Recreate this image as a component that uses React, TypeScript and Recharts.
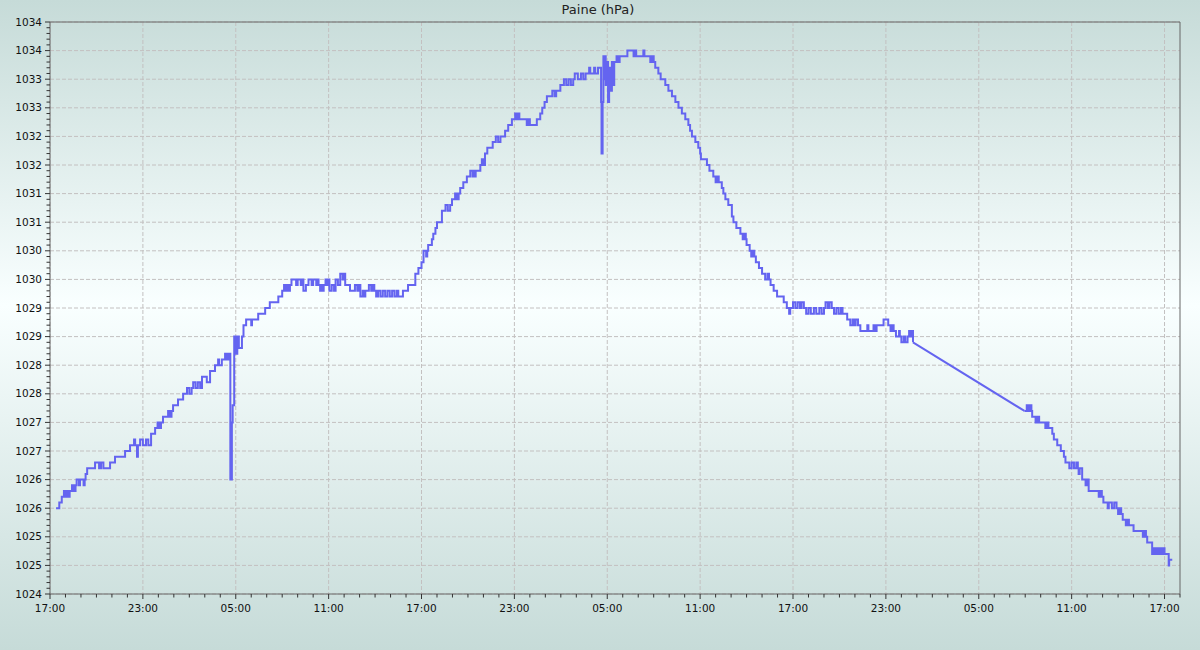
import { LineChart, Line, XAxis, YAxis, CartesianGrid, ReferenceLine } from "recharts";

const START_HOUR = 17;
const X_MAX = 73;
const Y_MIN = 1024;
const Y_MAX = 1034;

// labelled ticks (grid lines are drawn on these)
const xLabelHours = [0, 6, 12, 18, 24, 30, 36, 42, 48, 54, 60, 66, 72];
const yLabelValues = [
  1024, 1024.5, 1025, 1025.5, 1026, 1026.5, 1027, 1027.5, 1028, 1028.5, 1029,
  1029.5, 1030, 1030.5, 1031, 1031.5, 1032, 1032.5, 1033, 1033.5, 1034,
];

// small ticks: every hour / every 0.1 hPa
const xMinorTicks = Array.from({ length: X_MAX + 1 }, (_, i) => i);
const yMinorTicks = Array.from({ length: 101 }, (_, i) => (Y_MIN * 10 + i) / 10);

// [hours since 17:00, hPa] - logger readings before the gap
const readingsA: [number, number][] = [
  [0.39, 1025.5], [0.6, 1025.6], [0.76, 1025.7], [0.9, 1025.8], [1.0, 1025.7], [1.1, 1025.8],
  [1.2, 1025.7], [1.27, 1025.8], [1.42, 1025.9], [1.55, 1025.8], [1.65, 1025.9], [1.72, 1026.0],
  [1.87, 1025.9], [1.94, 1026.0], [2.17, 1025.9], [2.24, 1026.0], [2.3, 1026.1], [2.4, 1026.2],
  [2.91, 1026.3], [3.17, 1026.2], [3.3, 1026.3], [3.45, 1026.2], [3.88, 1026.3], [4.2, 1026.4],
  [4.85, 1026.5], [5.17, 1026.6], [5.43, 1026.7], [5.5, 1026.6], [5.62, 1026.4], [5.68, 1026.6],
  [5.82, 1026.7], [6.0, 1026.6], [6.2, 1026.7], [6.35, 1026.6], [6.53, 1026.8], [6.79, 1026.9],
  [6.95, 1027.0], [7.05, 1026.9], [7.17, 1027.0], [7.3, 1027.1], [7.63, 1027.2], [7.75, 1027.1],
  [7.85, 1027.2], [7.95, 1027.3], [8.27, 1027.4], [8.6, 1027.5], [8.85, 1027.6], [9.0, 1027.5],
  [9.15, 1027.6], [9.25, 1027.7], [9.4, 1027.6], [9.55, 1027.7], [9.7, 1027.6], [9.82, 1027.8],
  [10.13, 1027.7], [10.34, 1027.9], [10.66, 1028.0], [10.86, 1028.1], [10.92, 1028.0], [11.1, 1028.1],
  [11.31, 1028.2], [11.42, 1028.1], [11.52, 1028.2], [11.65, 1026.0], [11.75, 1027.0], [11.8, 1027.3],
  [11.9, 1028.5], [12.0, 1028.2], [12.1, 1028.5], [12.2, 1028.3], [12.4, 1028.5], [12.5, 1028.7],
  [12.67, 1028.8], [13.0, 1028.7], [13.05, 1028.8], [13.45, 1028.9], [13.9, 1029.0], [14.2, 1029.1],
  [14.75, 1029.2], [15.0, 1029.3], [15.12, 1029.4], [15.2, 1029.3], [15.3, 1029.4], [15.4, 1029.3],
  [15.5, 1029.4], [15.6, 1029.5], [15.9, 1029.4], [16.0, 1029.5], [16.2, 1029.4], [16.3, 1029.5],
  [16.37, 1029.3], [16.53, 1029.4], [16.7, 1029.5], [16.9, 1029.4], [17.0, 1029.5], [17.2, 1029.4],
  [17.3, 1029.5], [17.35, 1029.4], [17.45, 1029.3], [17.52, 1029.4], [17.62, 1029.3], [17.68, 1029.4],
  [17.8, 1029.5], [17.9, 1029.4], [18.0, 1029.5], [18.05, 1029.3], [18.2, 1029.4], [18.35, 1029.3],
  [18.45, 1029.5], [18.6, 1029.4], [18.75, 1029.6], [18.9, 1029.5], [19.0, 1029.6], [19.07, 1029.4],
  [19.38, 1029.3], [19.7, 1029.4], [19.85, 1029.3], [19.95, 1029.4], [20.05, 1029.2], [20.2, 1029.3],
  [20.3, 1029.2], [20.37, 1029.3], [20.6, 1029.4], [20.75, 1029.3], [20.85, 1029.4], [20.95, 1029.3],
  [21.07, 1029.2], [21.2, 1029.3], [21.35, 1029.2], [21.5, 1029.3], [21.65, 1029.2], [21.8, 1029.3],
  [21.95, 1029.2], [22.1, 1029.3], [22.25, 1029.2], [22.4, 1029.3], [22.5, 1029.2], [22.8, 1029.3],
  [23.13, 1029.4], [23.6, 1029.6], [23.8, 1029.7], [24.0, 1029.8], [24.13, 1030.0], [24.3, 1029.9],
  [24.37, 1030.0], [24.43, 1030.1], [24.67, 1030.2], [24.76, 1030.3], [24.9, 1030.4], [25.0, 1030.5],
  [25.32, 1030.7], [25.55, 1030.8], [25.7, 1030.7], [25.85, 1030.8], [25.97, 1030.9], [26.17, 1031.0],
  [26.3, 1030.9], [26.4, 1031.0], [26.5, 1031.1], [26.7, 1031.2], [26.93, 1031.3], [27.15, 1031.4],
  [27.3, 1031.3], [27.38, 1031.4], [27.45, 1031.3], [27.5, 1031.4], [27.8, 1031.5], [27.9, 1031.6],
  [28.0, 1031.5], [28.1, 1031.7], [28.25, 1031.8], [28.6, 1031.9], [28.8, 1032.0], [28.95, 1031.9],
  [29.1, 1032.0], [29.4, 1032.1], [29.6, 1032.2], [29.84, 1032.3], [30.05, 1032.4], [30.12, 1032.3],
  [30.25, 1032.4], [30.32, 1032.3], [30.8, 1032.2], [30.88, 1032.3], [31.0, 1032.2], [31.45, 1032.3],
  [31.67, 1032.4], [31.8, 1032.5], [31.95, 1032.6], [32.1, 1032.7], [32.45, 1032.8], [32.6, 1032.7],
  [32.7, 1032.8], [32.97, 1032.9], [33.2, 1033.0], [33.35, 1032.9], [33.5, 1033.0], [33.65, 1032.9],
  [33.8, 1033.0], [33.9, 1033.1], [34.1, 1033.0], [34.3, 1033.1], [34.45, 1033.0], [34.6, 1033.1],
  [34.83, 1033.2], [34.9, 1033.1], [35.15, 1033.2], [35.22, 1033.1], [35.4, 1033.2], [35.6, 1032.6],
  [35.63, 1031.7], [35.7, 1032.6], [35.75, 1033.4], [35.8, 1033.0], [35.85, 1033.4], [35.9, 1032.9],
  [36.0, 1033.3], [36.05, 1032.6], [36.12, 1033.2], [36.2, 1032.8], [36.3, 1033.3], [36.35, 1032.9],
  [36.45, 1033.3], [36.6, 1033.4], [36.7, 1033.3], [36.8, 1033.4], [37.3, 1033.5], [37.7, 1033.4],
  [37.8, 1033.5], [37.87, 1033.4], [38.33, 1033.5], [38.4, 1033.4], [38.78, 1033.3], [38.9, 1033.4],
  [39.0, 1033.3], [39.1, 1033.2], [39.3, 1033.1], [39.45, 1033.0], [39.75, 1032.9], [39.95, 1032.8],
  [40.18, 1032.7], [40.4, 1032.6], [40.6, 1032.5], [40.82, 1032.4], [41.04, 1032.3], [41.24, 1032.2],
  [41.35, 1032.1], [41.47, 1032.0], [41.69, 1031.9], [41.88, 1031.8], [42.0, 1031.7], [42.05, 1031.6],
  [42.44, 1031.5], [42.6, 1031.4], [42.85, 1031.3], [43.0, 1031.2], [43.1, 1031.3], [43.2, 1031.2],
  [43.4, 1031.1], [43.5, 1031.0], [43.63, 1030.9], [43.82, 1030.8], [44.05, 1030.6], [44.15, 1030.5],
  [44.34, 1030.4], [44.6, 1030.3], [44.75, 1030.2], [44.85, 1030.3], [44.95, 1030.2], [45.0, 1030.1],
  [45.2, 1030.0], [45.3, 1029.9], [45.4, 1030.0], [45.5, 1029.9], [45.6, 1029.8], [45.8, 1029.7],
  [46.0, 1029.6], [46.2, 1029.5], [46.35, 1029.6], [46.45, 1029.5], [46.55, 1029.4], [46.75, 1029.3],
  [46.97, 1029.2], [47.4, 1029.1], [47.6, 1029.0], [47.75, 1028.9], [47.82, 1029.0], [48.0, 1029.1],
  [48.15, 1029.0], [48.3, 1029.1], [48.45, 1029.0], [48.55, 1029.1], [48.7, 1029.0], [48.85, 1028.9],
  [49.0, 1029.0], [49.15, 1028.9], [49.35, 1029.0], [49.5, 1028.9], [49.7, 1029.0], [49.85, 1028.9],
  [50.0, 1029.0], [50.1, 1029.1], [50.25, 1029.0], [50.35, 1029.1], [50.5, 1029.0], [50.65, 1028.9],
  [50.8, 1029.0], [50.95, 1028.9], [51.1, 1029.0], [51.2, 1028.9], [51.5, 1028.8], [51.7, 1028.7],
  [51.85, 1028.8], [51.95, 1028.7], [52.05, 1028.8], [52.2, 1028.7], [52.35, 1028.6], [52.8, 1028.7],
  [52.87, 1028.6], [53.2, 1028.7], [53.27, 1028.6], [53.4, 1028.7], [53.85, 1028.8], [54.15, 1028.7],
  [54.3, 1028.6], [54.4, 1028.7], [54.5, 1028.6], [54.65, 1028.5], [54.85, 1028.6], [54.9, 1028.5],
  [55.0, 1028.4], [55.15, 1028.5], [55.25, 1028.4], [55.4, 1028.5], [55.5, 1028.6], [55.6, 1028.5],
  [55.7, 1028.6], [55.75, 1028.4],
];

// readings after the gap
const readingsB: [number, number][] = [
  [62.95, 1027.2], [63.1, 1027.3], [63.2, 1027.2], [63.3, 1027.3], [63.4, 1027.2], [63.45, 1027.1],
  [63.67, 1027.0], [63.8, 1027.1], [63.9, 1027.0], [64.3, 1026.9], [64.4, 1027.0], [64.5, 1026.9],
  [64.75, 1026.8], [64.85, 1026.7], [65.07, 1026.6], [65.3, 1026.5], [65.5, 1026.4], [65.6, 1026.3],
  [65.85, 1026.2], [66.0, 1026.3], [66.15, 1026.2], [66.3, 1026.3], [66.4, 1026.2], [66.45, 1026.1],
  [66.52, 1026.2], [66.68, 1026.0], [66.9, 1025.9], [67.0, 1026.0], [67.1, 1025.8], [67.75, 1025.7],
  [67.85, 1025.8], [67.95, 1025.7], [68.05, 1025.6], [68.33, 1025.5], [68.4, 1025.6], [68.6, 1025.5],
  [68.75, 1025.6], [68.9, 1025.5], [69.0, 1025.4], [69.1, 1025.5], [69.2, 1025.4], [69.3, 1025.3],
  [69.5, 1025.2], [69.6, 1025.3], [69.7, 1025.2], [70.0, 1025.1], [70.6, 1025.0], [70.7, 1025.1],
  [70.8, 1025.0], [70.88, 1024.9], [71.2, 1024.7], [71.3, 1024.8], [71.4, 1024.7], [71.5, 1024.8],
  [71.6, 1024.7], [71.7, 1024.8], [71.8, 1024.7], [71.9, 1024.8], [72.0, 1024.7], [72.27, 1024.5],
  [72.3, 1024.6], [72.5, 1024.6],
];

const toRows = (list: [number, number][]) => list.map(([h, v]) => ({ h, v }));
const dataA = toRows(readingsA);
const dataB = toRows(readingsB);
// the logger gap is just joined with a straight segment
const dataGap = [dataA[dataA.length - 1], dataB[0]];

const LINE = "#6464f0";
const AXIS = "#666";
const TICK = "#333";
const FONT = "'DejaVu Sans', sans-serif";

const hourLabel = (h: number) => `${String((START_HOUR + h) % 24).padStart(2, "0")}:00`;

// tickSize 5 + tickMargin 3 -> the axis line sits 8px from the label anchor
const XTick = (props: any) => {
  const { x, y, payload } = props;
  const h = payload.value;
  const major = xLabelHours.includes(h);
  const axisY = y - 8;
  return (
    <g>
      <line x1={x} x2={x} y1={axisY} y2={axisY + (major ? 5 : 3.5)} stroke={TICK} />
      {major && (
        <text x={x} y={axisY + 18} textAnchor="middle" fontSize={10.5} fill="#111" fontFamily={FONT}>
          {hourLabel(h)}
        </text>
      )}
    </g>
  );
};

const YTick = (props: any) => {
  const { x, y, payload } = props;
  const v = payload.value;
  const major = Math.round(v * 10) % 5 === 0;
  const axisX = x + 8;
  return (
    <g>
      <line x1={axisX - (major ? 5 : 3.5)} x2={axisX} y1={y} y2={y} stroke={TICK} />
      {major && (
        <text x={axisX - 8} y={y} dy="0.35em" textAnchor="end" fontSize={10.5} fill="#111" fontFamily={FONT}>
          {Math.round(v)}
        </text>
      )}
    </g>
  );
};

export default function App() {
  return (
    <div
      style={{
        position: "relative",
        width: 1200,
        height: 650,
        background: "linear-gradient(180deg, #c6dbd8 0%, #f9ffff 47%, #c6dbd8 100%)",
      }}
    >
      <style>{`body{margin:0}`}</style>
      <div
        style={{
          position: "absolute",
          top: 2,
          left: 0,
          width: 1196,
          textAlign: "center",
          fontFamily: FONT,
          fontSize: 13,
          lineHeight: "16px",
          color: "#222",
        }}
      >
        Paine (hPa)
      </div>
      <LineChart width={1200} height={650} margin={{ top: 22, right: 20, bottom: 26, left: 0 }}>
        <CartesianGrid
          stroke="#c3c0c0"
          strokeDasharray="4 2"
          horizontalValues={yLabelValues}
          verticalValues={xLabelHours}
        />
        <XAxis
          dataKey="h"
          type="number"
          domain={[0, X_MAX]}
          ticks={xMinorTicks}
          interval={0}
          allowDataOverflow
          height={30}
          tickSize={5}
          tickMargin={3}
          tickLine={false}
          axisLine={{ stroke: AXIS }}
          tick={XTick}
        />
        <YAxis
          type="number"
          domain={[Y_MIN, Y_MAX]}
          ticks={yMinorTicks}
          interval={0}
          allowDataOverflow
          width={50}
          tickSize={5}
          tickMargin={3}
          tickLine={false}
          axisLine={{ stroke: AXIS }}
          tick={YTick}
        />
        <ReferenceLine y={Y_MAX} stroke={AXIS} />
        <ReferenceLine x={X_MAX} stroke={AXIS} />
        <Line data={dataGap} dataKey="v" type="linear" stroke={LINE} strokeWidth={2} dot={false} isAnimationActive={false} />
        <Line data={dataA} dataKey="v" type="stepAfter" stroke={LINE} strokeWidth={2} dot={false} isAnimationActive={false} />
        <Line data={dataB} dataKey="v" type="stepAfter" stroke={LINE} strokeWidth={2} dot={false} isAnimationActive={false} />
      </LineChart>
    </div>
  );
}
